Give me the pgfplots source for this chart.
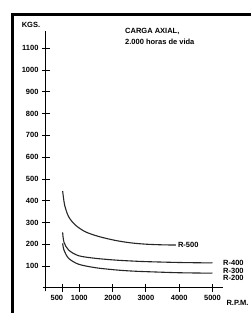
\documentclass[border=0pt]{standalone}
\usepackage{pgfplots}
\pgfplotsset{compat=1.18}
\usepackage{fontspec}
\setmainfont{Liberation Sans}
\newcommand{\lf}{\fontsize{7.5}{8}\selectfont\bfseries}
\begin{document}
\begin{tikzpicture}[x=1pt,y=1pt]
\useasboundingbox (-46,-25) rectangle (205,288);
\fill[white] (-46,-25) rectangle (205,288);
\draw[line width=3pt] (-33,-30) -- (-33,273.5) -- (215,273.5);
\begin{axis}[
  anchor=origin, at={(0pt,0pt)},
  x=0.0333pt, y=0.218pt,
  xmin=-100, xmax=5320, ymin=-15, ymax=1180,
  axis lines=middle,
  axis line style={-, line width=1pt},
  tick align=center,
  major tick length=8pt,
  tick style={line width=0.8pt, black},
  xtick={500,1000,2000,3000,4000,5000},
  xticklabels={\makebox[0pt][r]{500\kern-0.5pt},1000,2000,3000,4000,5000},
  ytick={100,200,...,1100},
  tick label style={font=\lf},
  /pgf/number format/assume math mode=true,
  /pgf/number format/set thousands separator={},
  clip=false,
]
\addplot[line width=1.1pt, black!85, smooth] coordinates {
 (500,445) (560,380) (680,327) (880,289) (1180,258) (1590,236) (2090,218) (2550,207) (3000,201) (3500,198) (3900,197)};
\addplot[line width=1.1pt, black!85, smooth] coordinates {
 (500,255) (540,210) (680,174) (980,148) (1490,136) (2090,128) (2550,124) (3000,121) (4000,117) (5000,115)};
\addplot[line width=1.1pt, black!85, smooth] coordinates {
 (500,205) (540,174) (680,136) (980,109) (1490,93) (2090,83) (2550,78) (3000,75) (4000,70) (5000,68)};
\node[anchor=west, font=\lf, inner sep=1pt] at (axis cs:3930,197) {R-500};
\node[anchor=west, font=\lf, inner sep=0pt] at (axis cs:5315,115) {R-400};
\node[anchor=west, font=\lf, inner sep=0pt] at (axis cs:5315,79) {R-300};
\node[anchor=west, font=\lf, inner sep=0pt] at (axis cs:5315,44) {R-200};
\end{axis}
\node[font=\lf] at (-15,263) {KGS.};
\node[anchor=west, font=\lf, inner sep=0pt] at (79,257) {CARGA AXIAL,};
\node[anchor=west, font=\lf, inner sep=0pt] at (79,246) {2.000 horas de vida};
\node[font=\lf] at (191.5,-14.7) {R.P.M.};
\end{tikzpicture}
\end{document}
